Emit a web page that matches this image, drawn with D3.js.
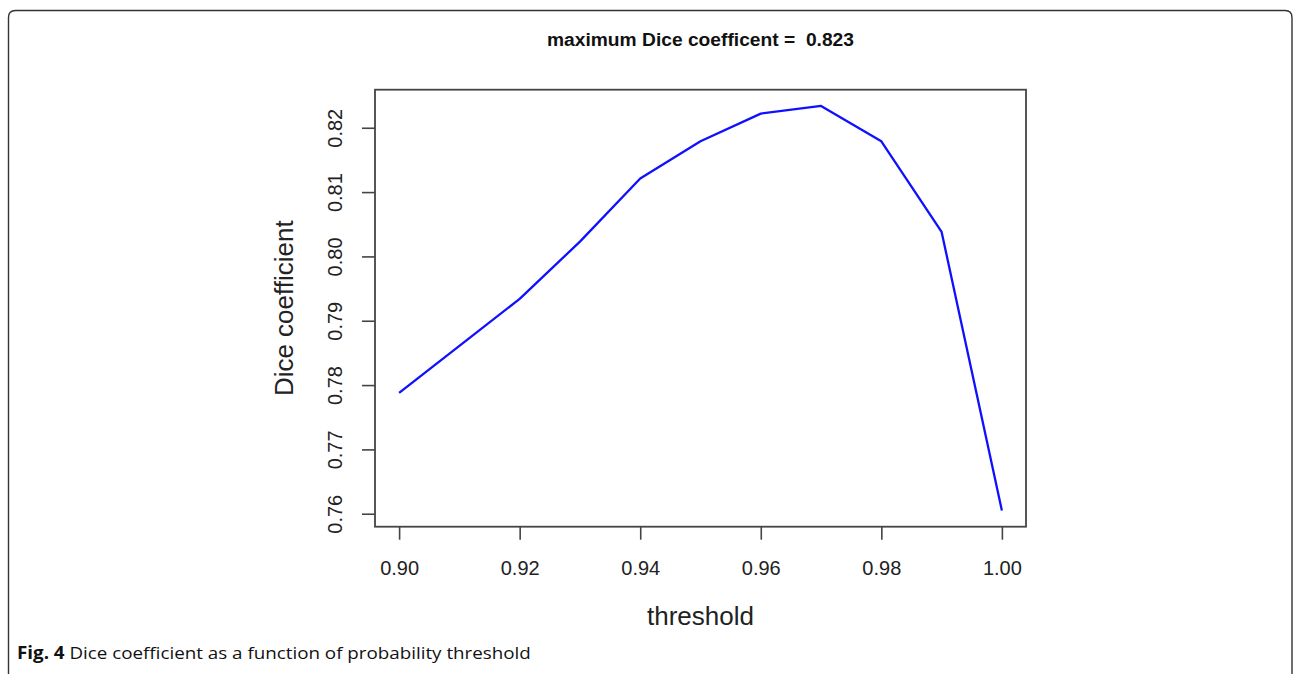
<!DOCTYPE html>
<html>
<head>
<meta charset="utf-8">
<script src="https://cdn.jsdelivr.net/npm/d3@7"></script>
<style>
  html, body { margin: 0; padding: 0; background: #fff; }
  svg { display: block; }
  .tick text { font-family: "Liberation Sans", Arial, sans-serif; fill: #222; }
  .tick line { stroke: #444; stroke-width: 1.6; }
</style>
</head>
<body>
<svg id="chart" width="1294" height="674"></svg>
<script>
// data
var thresholds = [0.90, 0.91, 0.92, 0.93, 0.94, 0.95, 0.96, 0.97, 0.98, 0.99, 1.00]
var dice = [0.7788, 0.7861, 0.7934, 0.8023, 0.8121, 0.8179, 0.8222, 0.8234, 0.8179, 0.8038, 0.7605]
var xTicks = [0.90, 0.92, 0.94, 0.96, 0.98, 1.00]
var yTicks = [0.76, 0.77, 0.78, 0.79, 0.80, 0.81, 0.82]
var titleText = 'maximum Dice coefficent =  0.823'
var xLabel = 'threshold'
var yLabel = 'Dice coefficient'
var captionBold = 'Fig. 4'
var captionRest = ' Dice coefficient as a function of probability threshold'

var svg = d3.select('#chart')

// outer panel frame, open at the bottom
var fx0 = 8.5, fx1 = 1292, fy0 = 10.5, r = 7
svg.append('path')
    .attr('d', 'M' + fx0 + ',680 L' + fx0 + ',' + (fy0 + r) +
        ' Q' + fx0 + ',' + fy0 + ' ' + (fx0 + r) + ',' + fy0 +
        ' L' + (fx1 - r) + ',' + fy0 +
        ' Q' + fx1 + ',' + fy0 + ' ' + fx1 + ',' + (fy0 + r) +
        ' L' + fx1 + ',680')
    .attr('fill', 'none')
    .attr('stroke', '#333')
    .attr('stroke-width', 1.4)

var plot = {left: 375, right: 1026, top: 89.7, bottom: 526.7}

// R style 4% padding on both axes
function padded(ext) {
    var p = (ext[1] - ext[0]) * 0.04
    return [ext[0] - p, ext[1] + p]
}

var xScale = d3.scaleLinear().domain(padded(d3.extent(thresholds))).range([plot.left, plot.right])
var yScale = d3.scaleLinear().domain(padded(d3.extent(dice))).range([plot.bottom, plot.top])

var xAxis = d3.axisBottom(xScale).tickValues(xTicks).tickFormat(d3.format('.2f')).tickSize(13).tickSizeOuter(0)
var yAxis = d3.axisLeft(yScale).tickValues(yTicks).tickFormat(d3.format('.2f')).tickSize(13).tickSizeOuter(0)

var xg = svg.append('g')
    .attr('class', 'x-axis')
    .attr('transform', 'translate(0,' + plot.bottom + ')')
    .call(xAxis)
xg.select('.domain').remove()
xg.selectAll('.tick text')
    .attr('y', 48.3)
    .attr('dy', 0)
    .style('font-size', '20px')

var yg = svg.append('g')
    .attr('class', 'y-axis')
    .attr('transform', 'translate(' + plot.left + ',0)')
    .call(yAxis)
yg.select('.domain').remove()
yg.selectAll('.tick text')
    .attr('x', 0)
    .attr('dy', 0)
    .attr('text-anchor', 'middle')
    .attr('transform', 'translate(-33,0) rotate(-90)')
    .style('font-size', '20px')

// plot box
svg.append('rect')
    .attr('x', plot.left)
    .attr('y', plot.top)
    .attr('width', plot.right - plot.left)
    .attr('height', plot.bottom - plot.top)
    .attr('fill', 'none')
    .attr('stroke', '#444')
    .attr('stroke-width', 1.8)

var line = d3.line()
    .x(function(d, i) { return xScale(thresholds[i]) })
    .y(function(d) { return yScale(d) })

svg.append('path')
    .datum(dice)
    .attr('d', line)
    .attr('fill', 'none')
    .attr('stroke', '#1010ff')
    .attr('stroke-width', 2.3)
    .attr('stroke-linejoin', 'round')

var cx = (plot.left + plot.right) / 2
var cy = (plot.top + plot.bottom) / 2

svg.append('text')
    .text(titleText)
    .attr('x', cx)
    .attr('y', 45.5)
    .attr('text-anchor', 'middle')
    .attr('textLength', 307)
    .attr('lengthAdjust', 'spacingAndGlyphs')
    .style('white-space', 'pre')
    .style('font-family', '"Liberation Sans", Arial, sans-serif')
    .style('font-weight', 'bold')
    .style('font-size', '17.5px')
    .style('fill', '#111')

svg.append('text')
    .text(xLabel)
    .attr('x', cx)
    .attr('y', 625)
    .attr('text-anchor', 'middle')
    .style('font-family', '"Liberation Sans", Arial, sans-serif')
    .style('font-size', '26px')
    .style('fill', '#222')

svg.append('text')
    .text(yLabel)
    .attr('text-anchor', 'middle')
    .attr('transform', 'translate(293,' + cy + ') rotate(-90)')
    .style('font-family', '"Liberation Sans", Arial, sans-serif')
    .style('font-size', '26px')
    .style('fill', '#222')

// caption squeezed horizontally to the width of the original
var capG = svg.append('g')
var caption = capG.append('text')
    .attr('x', 0)
    .attr('y', 0)
    .style('font-family', '"Open Sans", "Noto Sans", sans-serif')
    .style('font-size', '17px')
    .style('fill', '#111')
caption.append('tspan').text(captionBold).style('font-weight', 'bold')
caption.append('tspan').text(captionRest).style('white-space', 'pre')
var capW = caption.node().getComputedTextLength()
capG.attr('transform', 'translate(17,659) scale(' + (514 / capW) + ',1)')
</script>
</body>
</html>
